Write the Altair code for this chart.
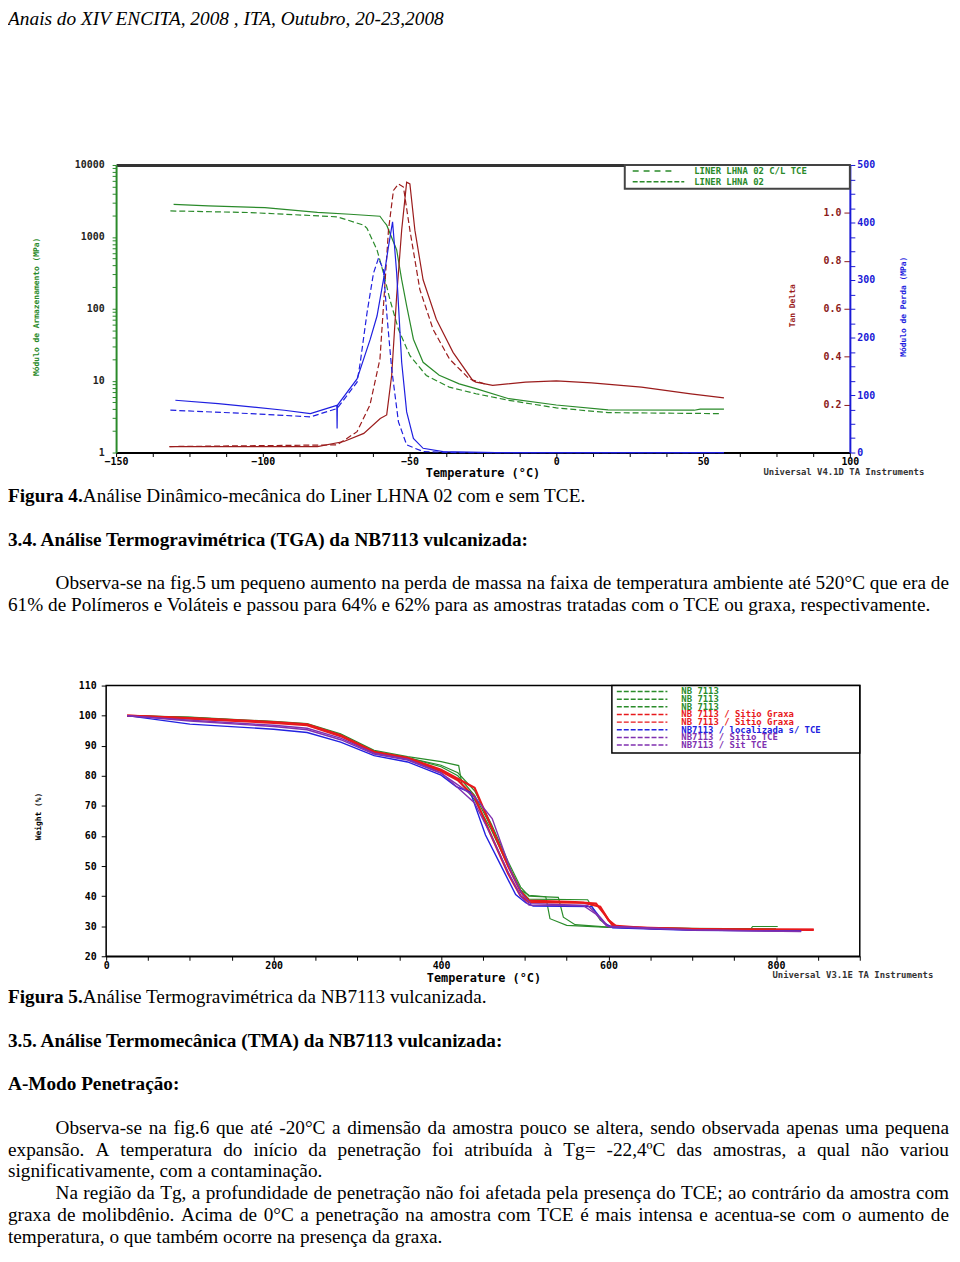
import unicodedata
import altair as alt
import pandas as pd

W, H = 952, 1254
M = 8


def pg(v):
    return v - M


# ---------------- Figure 4 : DMA data ----------------
G_SOLID_T = [-130.4, -118.6, -99.3, -81.4, -70.3, -60.1, -58.8, -57.8, -54.4, -52.7, -51.0, -48.7,
             -45.4, -39.9, -33.1, -27.4, -16.2, 0.0, 17.6, 47.0, 49.0, 57.1]
G_SOLID_V = [2833, 2692, 2553, 2198, 2062, 1936, 1636, 1455, 658, 254, 110, 37.7,
             18.0, 11.9, 9.03, 7.76, 5.61, 4.59, 3.92, 3.88, 4.01, 4.01]
G_DASH_T = [-131.5, -104.1, -74.7, -65.6, -64.5, -61.1, -58.9, -56.7, -53.8, -49.9, -44.3,
            -36.5, -27.4, -16.2, 0.0, 17.6, 55.4]
G_DASH_V = [2297, 2178, 1900, 1455, 1310, 658, 314, 134, 51.7, 22.3, 11.8,
            8.13, 6.58, 5.33, 4.18, 3.59, 3.48]
R_SOLID_T = [-131.8, -81.4, -72.4, -65.6, -60.0, -57.8, -56.1, -54.4, -52.7, -51.0, -49.9, -48.2,
             -45.4, -40.9, -35.2, -28.5, -27.4, -21.7, -10.5, 0.0, 12.0, 29.0, 45.8, 57.1]
R_SOLID_V = [0.025, 0.025, 0.046, 0.080, 0.142, 0.157, 0.323, 0.654, 0.928, 1.128, 1.121, 0.928,
             0.721, 0.556, 0.418, 0.301, 0.294, 0.280, 0.294, 0.299, 0.291, 0.273, 0.245, 0.228]
R_DASH_T = [-131.8, -74.7, -67.9, -63.5, -60.1, -58.9, -57.2, -55.5, -53.8, -52.1, -49.9, -46.5,
            -42.0, -36.4, -29.6, -24.0]
R_DASH_V = [0.025, 0.032, 0.087, 0.199, 0.390, 0.611, 0.928, 1.094, 1.121, 1.108, 0.928, 0.680,
            0.514, 0.390, 0.307, 0.285]
B_SOLID_T = [-129.8, -115.2, -92.7, -83.8, -74.8, -74.7, -74.6, -67.9, -63.4, -61.1, -58.9, -57.2,
             -55.8, -54.4, -52.7, -51.0, -48.7, -45.4, -38.6, -20.6, 57.1]
B_SOLID_V = [90.9, 85.0, 73.6, 67.7, 82.0, 41.9, 82.2, 128.1, 197.1, 237.4, 300.5, 358.1,
             401.2, 312.0, 156.9, 70.7, 24.7, 7.4, 1.7, 0, 0]
B_DASH_T = [-131.5, -104.1, -83.8, -74.7, -67.9, -66.8, -64.5, -62.3, -60.6, -58.9, -57.8, -56.1,
            -53.8, -51.0, -45.4, -34.1, 57.1]
B_DASH_V = [73.6, 67.7, 62.1, 76.4, 122.4, 156.9, 243.1, 312.0, 337.9, 317.7, 243.1, 145.3,
            53.4, 13.3, 1.7, 0, 0]
FIG4_LEGEND = ["LINER LHNA 02 C/L TCE", "LINER LHNA 02"]

# ---------------- Figure 5 : TGA data ----------------
TGA_LABELS = ["NB 7113", "NB 7113", "NB 7113", "NB 7113 / Sitio Graxa", "NB 7113 / Sitio Graxa",
              "NB7113 / localizada s/ TCE", "NB7113 / Sitio TCE", "NB7113 / Sit TCE"]
TGA_T = [
    [25, 100, 200, 240, 280, 320, 360, 400, 421, 425, 440, 460, 480, 495, 505, 525, 530, 550, 600, 700, 770, 772, 802],
    [25, 100, 200, 240, 280, 320, 360, 400, 420, 440, 460, 480, 495, 505, 540, 546, 560, 600, 700, 800],
    [25, 100, 200, 240, 280, 320, 360, 400, 420, 440, 460, 480, 495, 505, 575, 590, 600, 650, 800],
    [25, 100, 200, 240, 280, 320, 360, 400, 420, 440, 460, 480, 495, 505, 560, 585, 595, 605, 650, 750, 845],
    [25, 100, 200, 240, 280, 320, 360, 400, 420, 440, 460, 480, 495, 505, 570, 590, 600, 610, 700, 845],
    [25, 100, 200, 240, 280, 320, 360, 400, 418, 435, 453, 473, 489, 501, 510, 580, 595, 605, 700, 830],
    [25, 100, 200, 240, 280, 320, 360, 400, 420, 440, 461, 485, 497, 507, 575, 590, 600, 700, 830],
    [25, 100, 200, 240, 280, 320, 360, 400, 420, 440, 460, 480, 495, 505, 570, 585, 598, 700, 830],
]
TGA_W = [
    [100, 99.5, 98.1, 97.4, 94.0, 88.5, 86.4, 84.7, 83.4, 77.0, 72.0, 62.0, 50.0, 42.0, 40.3, 39.8, 32.5, 30.3, 29.6, 29.2, 29.1, 29.9, 29.9],
    [100, 99.3, 97.8, 97.0, 93.6, 88.0, 86.0, 83.5, 81.0, 75.0, 64.0, 51.5, 43.0, 40.0, 39.6, 33.0, 30.5, 29.7, 29.2, 29.0],
    [100, 99.4, 97.9, 97.1, 93.7, 88.2, 86.1, 83.0, 80.0, 73.5, 63.0, 50.5, 42.0, 39.0, 38.8, 32.0, 30.0, 29.4, 29.1],
    [100, 99.2, 97.9, 97.1, 93.5, 88.0, 86.0, 82.0, 79.0, 76.0, 63.0, 50.0, 41.5, 38.5, 38.0, 37.5, 34.0, 30.2, 29.3, 28.9, 28.9],
    [100, 99.0, 97.6, 96.8, 93.2, 87.7, 85.7, 81.5, 78.5, 73.0, 60.0, 47.5, 40.0, 38.0, 37.8, 36.5, 32.0, 29.8, 29.0, 28.8],
    [100, 97.2, 95.5, 94.4, 91.2, 86.7, 84.6, 80.2, 76.4, 74.5, 60.3, 49.3, 40.5, 37.8, 36.7, 36.5, 31.0, 29.5, 28.6, 28.4],
    [100, 98.2, 96.4, 95.3, 92.0, 87.2, 85.2, 80.8, 77.0, 73.0, 65.8, 47.1, 40.5, 37.5, 36.9, 33.0, 29.8, 28.7, 28.3],
    [100, 98.5, 96.8, 95.8, 92.5, 87.5, 85.5, 81.0, 76.0, 71.0, 60.0, 48.0, 40.0, 37.0, 36.8, 34.0, 30.0, 28.8, 28.2],
]

# ---------------- document text ----------------
HEADER = "Anais do XIV ENCITA, 2008 , ITA, Outubro, 20-23,2008"
CAP4_B, CAP4 = "Figura 4.", "Análise Dinâmico-mecânica do Liner LHNA 02 com e sem TCE."
SEC34 = "3.4. Análise Termogravimétrica (TGA) da NB7113 vulcanizada:"
PAR5 = ["Observa-se na fig.5 um pequeno aumento na perda de massa na faixa de temperatura ambiente até 520°C que era de",
        "61% de Polímeros e Voláteis e passou para 64% e 62% para as amostras tratadas com o TCE ou graxa, respectivamente."]
CAP5_B, CAP5 = "Figura 5.", "Análise Termogravimétrica da NB7113 vulcanizada."
SEC35 = "3.5. Análise Termomecânica (TMA) da NB7113 vulcanizada:"
SUBA = "A-Modo Penetração:"
PAR6 = ["Observa-se na fig.6 que até -20°C a dimensão da amostra pouco se altera, sendo observada apenas uma pequena",
        "expansão. A temperatura do início da penetração foi atribuída à Tg= -22,4ºC das amostras, a qual não variou",
        "significativamente, com a contaminação.",
        "Na região da Tg, a profundidade de penetração não foi afetada pela presença do TCE; ao contrário da amostra com",
        "graxa de molibdênio. Acima de 0°C a penetração na amostra com TCE é mais intensa e acentua-se com o aumento de",
        "temperatura, o que também ocorre na presença da graxa."]

# Times-Roman advance widths (1/1000 em) used to justify text lines
TR = {' ': 250, 'a': 444, 'b': 500, 'c': 444, 'd': 500, 'e': 444, 'f': 333, 'g': 500, 'h': 500, 'i': 278,
      'j': 278, 'k': 500, 'l': 278, 'm': 778, 'n': 500, 'o': 500, 'p': 500, 'q': 500, 'r': 333, 's': 389,
      't': 278, 'u': 500, 'v': 500, 'w': 722, 'x': 500, 'y': 500, 'z': 444, 'A': 722, 'B': 667, 'C': 667,
      'D': 722, 'E': 611, 'F': 556, 'G': 722, 'H': 722, 'I': 333, 'J': 389, 'K': 722, 'L': 611, 'M': 889,
      'N': 722, 'O': 722, 'P': 556, 'Q': 722, 'R': 667, 'S': 556, 'T': 611, 'U': 722, 'V': 722, 'W': 944,
      'X': 722, 'Y': 722, 'Z': 611, '.': 250, ',': 250, '-': 333, ':': 278, ';': 278, '(': 333, ')': 333,
      '%': 833, '°': 400, 'º': 310, '=': 564, '/': 278}


def tw(s, fs):
    tot = 0
    for ch in s:
        if ch.isdigit():
            tot += 500
            continue
        base = unicodedata.normalize('NFD', ch)[0]
        tot += TR.get(ch, TR.get(base, 500))
    return tot * fs / 1000.0


FS = 19.4
BOLD_FIG_W = 3889 * FS / 1000.0  # width of "Figura N." in Times-Bold


def justify(line, x0, x1, y, rows):
    words = line.split(' ')
    ws = [tw(w, FS) for w in words]
    gap = (x1 - x0 - sum(ws)) / (len(words) - 1)
    x = x0
    for w, wd in zip(words, ws):
        rows.append({'text': w, 'x': x, 'y': y})
        x += wd + gap


normal, bold, italic = [], [], []
italic.append({'text': HEADER, 'x': 0, 'y': 12})
bold.append({'text': CAP4_B, 'x': 0, 'y': pg(501)})
normal.append({'text': CAP4, 'x': BOLD_FIG_W, 'y': pg(501)})
bold.append({'text': SEC34, 'x': 0, 'y': pg(545)})
justify(PAR5[0], pg(56), pg(957), pg(589), normal)
normal.append({'text': PAR5[1], 'x': 0, 'y': pg(611)})
bold.append({'text': CAP5_B, 'x': 0, 'y': pg(1006)})
normal.append({'text': CAP5, 'x': BOLD_FIG_W, 'y': pg(1006)})
bold.append({'text': SEC35, 'x': 0, 'y': pg(1050)})
bold.append({'text': SUBA, 'x': 0, 'y': pg(1094)})
justify(PAR6[0], pg(56), pg(957), pg(1138), normal)
justify(PAR6[1], 0, pg(957), pg(1160), normal)
normal.append({'text': PAR6[2], 'x': 0, 'y': pg(1182)})
justify(PAR6[3], pg(56), pg(957), pg(1204), normal)
justify(PAR6[4], 0, pg(957), pg(1226), normal)
normal.append({'text': PAR6[5], 'x': 0, 'y': pg(1248)})


def text_layer(rows, weight='normal', style='normal', size=FS):
    return alt.Chart(pd.DataFrame(rows)).mark_text(
        font='Liberation Serif', fontSize=size, fontWeight=weight, fontStyle=style,
        align='left', baseline='alphabetic', color='black'
    ).encode(x=alt.X('x:Q', scale=None, axis=None), y=alt.Y('y:Q', scale=None, axis=None), text='text:N')


ONE = pd.DataFrame({'k': [0]})


def label(s, x, y, color='black', size=9, angle=0, weight='bold', align='center'):
    kw = dict(text=s, font='DejaVu Sans Mono', fontSize=size, fontWeight=weight, color=color,
              align=align, baseline='middle')
    if angle:
        kw['angle'] = angle
    return alt.Chart(ONE).mark_text(**kw).encode(x=alt.value(x), y=alt.value(y))


# ---------------- scales & axes ----------------
X1 = alt.Scale(domain=[-150, 100], range=[pg(117), pg(857)], nice=False, zero=False)
YG = alt.Scale(type='log', domain=[1, 10000], range=[pg(451), pg(161)], nice=False)
YR = alt.Scale(domain=[0, 1.2], range=[pg(451), pg(161)], nice=False, zero=False)
YB = alt.Scale(domain=[0, 500], range=[pg(451), pg(161)], nice=False, zero=False)
X2 = alt.Scale(domain=[0, 900], range=[pg(107), pg(867)], nice=False, zero=False)
Y2 = alt.Scale(domain=[20, 110], range=[pg(959), pg(686)], nice=False, zero=False)

LAB = dict(labelFont='DejaVu Sans Mono', labelFontWeight='bold', labelFontSize=10,
           labelFlush=False, labelOverlap=False, grid=False, title=None)

AX1 = alt.Axis(orient='bottom', offset=pg(451) - H, values=[-150 + 12.5 * i for i in range(21)],
               labelExpr="datum.value % 50 === 0 ? datum.label : ''", format='d',
               domainColor='black', domainWidth=2, tickColor='black', tickSize=4, labelColor='black',
               labelPadding=0, **LAB)
LOGV = [m * 10 ** k for k in range(4) for m in range(1, 10)] + [10000]
AYG = alt.Axis(orient='left', offset=-pg(117), values=LOGV, format='d',
               labelExpr="indexof([1,10,100,1000,10000], datum.value) >= 0 ? datum.label : ''",
               domainColor='#2a8a2a', domainWidth=2, tickColor='#2a8a2a', tickSize=4, labelColor='#222222',
               labelPadding=8, **LAB)
AYR = alt.Axis(orient='left', offset=-pg(857), values=[0.2, 0.4, 0.6, 0.8, 1.0], format='.1f',
               domain=False, tickColor='#8b1a1a', tickSize=6, labelColor='#8b1a1a', labelPadding=3, **LAB)
AYB = alt.Axis(orient='right', offset=pg(857) - W, values=[25 * i for i in range(21)], format='d',
               labelExpr="datum.value % 100 === 0 ? datum.label : ''",
               domainColor='#1a1ad6', domainWidth=2, tickColor='#1a1ad6', tickSize=5, labelColor='#1a1ad6',
               labelPadding=2, **LAB)
ATOP = alt.Axis(orient='top', offset=-pg(161), domainColor='#333333', domainWidth=3, ticks=False,
                labels=False, grid=False, title=None)
AX2 = alt.Axis(orient='bottom', offset=pg(959) - H, values=[50 * i for i in range(19)], format='d',
               labelExpr="datum.value % 200 === 0 ? datum.label : ''",
               domainColor='black', domainWidth=1.5, tickColor='black', tickSize=4, labelColor='black',
               labelPadding=0, **LAB)
AY2 = alt.Axis(orient='left', offset=-pg(107), values=[10 * i for i in range(2, 12)], format='d',
               domainColor='black', domainWidth=1.5, tickColor='black', tickSize=5, labelColor='black',
               labelPadding=5, **LAB)


def line(T, V, xs, ys, color, dash=None, width=1.2, xaxis=None, yaxis=None):
    df = pd.DataFrame({'T': T, 'v': V, 'i': range(len(T))})
    mk = dict(color=color, strokeWidth=width)
    if dash:
        mk['strokeDash'] = dash
    return alt.Chart(df).mark_line(**mk).encode(
        x=alt.X('T:Q', scale=xs, axis=xaxis),
        y=alt.Y('v:Q', scale=ys, axis=yaxis),
        order=alt.Order('i:Q'))


GREEN, DRED, BLUE = '#2a8a2a', '#9b1c1c', '#1f1fe0'
DASH = [6, 3]

layers = []
# ---- figure 4 ----
layers.append(line(G_SOLID_T, G_SOLID_V, X1, YG, GREEN, xaxis=AX1, yaxis=AYG))
layers.append(line(G_DASH_T, G_DASH_V, X1, YG, GREEN, dash=DASH, xaxis=ATOP))
layers.append(line(R_SOLID_T, R_SOLID_V, X1, YR, DRED, yaxis=AYR))
layers.append(line(R_DASH_T, R_DASH_V, X1, YR, DRED, dash=DASH))
layers.append(line(B_SOLID_T, B_SOLID_V, X1, YB, BLUE, yaxis=AYB))
layers.append(line(B_DASH_T, B_DASH_V, X1, YB, BLUE, dash=DASH))

# legend fig 4
layers.append(alt.Chart(ONE).mark_rect(fill='white', stroke='#444444', strokeWidth=2).encode(
    x=alt.value(pg(630)), x2=alt.value(pg(857)), y=alt.value(pg(161)), y2=alt.value(pg(185))))
leg4 = pd.DataFrame({'lab': FIG4_LEGEND, 'row': [0, 1]})
ROWS4 = alt.Scale(domain=[0, 1], range=[pg(167), pg(178)])
layers.append(alt.Chart(leg4.iloc[:1]).mark_rule(color=GREEN, strokeWidth=1.5, strokeDash=[6, 5]).encode(
    x=alt.value(pg(638)), x2=alt.value(pg(682)),
    y=alt.Y('row:Q', scale=ROWS4, axis=None)))
layers.append(alt.Chart(leg4.iloc[1:]).mark_rule(color=GREEN, strokeWidth=1.5, strokeDash=[5, 2]).encode(
    x=alt.value(pg(638)), x2=alt.value(pg(690)),
    y=alt.Y('row:Q', scale=ROWS4, axis=None)))
layers.append(alt.Chart(leg4).mark_text(font='DejaVu Sans Mono', fontWeight='bold', fontSize=9, color=GREEN,
                                         align='left', baseline='middle').encode(
    x=alt.value(pg(700)),
    y=alt.Y('row:Q', scale=ROWS4, axis=None),
    text='lab:N'))

layers.append(label("Módulo de Armazenamento (MPa)", pg(37), pg(304), color=GREEN, size=8, angle=270))
layers.append(label("Tan Delta", pg(800), pg(303), color=DRED, size=8, angle=270))
layers.append(label("Módulo de Perda (MPa)", pg(912), pg(304), color=BLUE, size=8, angle=270))
layers.append(label("Temperature (°C)", pg(487), pg(472), size=12))
layers.append(label("Universal V4.1D TA Instruments", pg(851), pg(471), color='#333333', size=9))

# ---- figure 5 ----
TGA_COLORS = ['#2a8c2a', '#2a8c2a', '#2a8c2a', '#e8191c', '#e8191c', '#2222e0', '#8030b0', '#8030b0']
TGA_WIDTH = [1.2, 1.2, 1.2, 2.2, 2.2, 1.4, 1.4, 1.4]
layers.append(alt.Chart(pd.DataFrame({'x0': [0], 'x1': [900], 'y0': [20], 'y1': [110]})).mark_rect(
    fill='white', stroke='black', strokeWidth=1.5).encode(
    x=alt.X('x0:Q', scale=X2, axis=None), x2='x1:Q',
    y=alt.Y('y0:Q', scale=Y2, axis=None), y2='y1:Q'))
for k in range(8):
    layers.append(line(TGA_T[k], TGA_W[k], X2, Y2, TGA_COLORS[k], width=TGA_WIDTH[k],
                       xaxis=AX2 if k == 0 else None, yaxis=AY2 if k == 0 else None))

layers.append(alt.Chart(ONE).mark_rect(fill='white', stroke='black', strokeWidth=1.5).encode(
    x=alt.value(pg(617)), x2=alt.value(pg(867)), y=alt.value(pg(686)), y2=alt.value(pg(754))))
leg5 = pd.DataFrame({'lab': TGA_LABELS, 'col': TGA_COLORS, 'row': list(range(8))})
ROWS5 = alt.Scale(domain=[0, 7], range=[pg(692), pg(746)])
layers.append(alt.Chart(leg5).mark_rule(strokeWidth=1.5, strokeDash=[5, 2]).encode(
    x=alt.value(pg(622)), x2=alt.value(pg(673)),
    y=alt.Y('row:Q', scale=ROWS5, axis=None), color=alt.Color('col:N', scale=None)))
layers.append(alt.Chart(leg5).mark_text(font='DejaVu Sans Mono', fontWeight='bold', fontSize=9,
                                         align='left', baseline='middle').encode(
    x=alt.value(pg(687)), y=alt.Y('row:Q', scale=ROWS5, axis=None),
    color=alt.Color('col:N', scale=None), text='lab:N'))

layers.append(label("Weight (%)", pg(39), pg(818), size=8, angle=270))
layers.append(label("Temperature (°C)", pg(488), pg(981), size=12))
layers.append(label("Universal V3.1E TA Instruments", pg(860), pg(978), color='#333333', size=9))

# ---- text ----
layers.append(text_layer(normal))
layers.append(text_layer(bold, weight='bold'))
layers.append(text_layer(italic, style='italic', size=19.5))

chart = alt.layer(*layers).resolve_scale(
    x='independent', y='independent', color='independent'
).resolve_axis(x='independent', y='independent').properties(
    width=W, height=H, padding=0, autosize=alt.AutoSizeParams(type='none'), background='white'
).configure_view(strokeWidth=0)

chart.save("out.html", embed_options={"renderer": "svg", "actions": False})
